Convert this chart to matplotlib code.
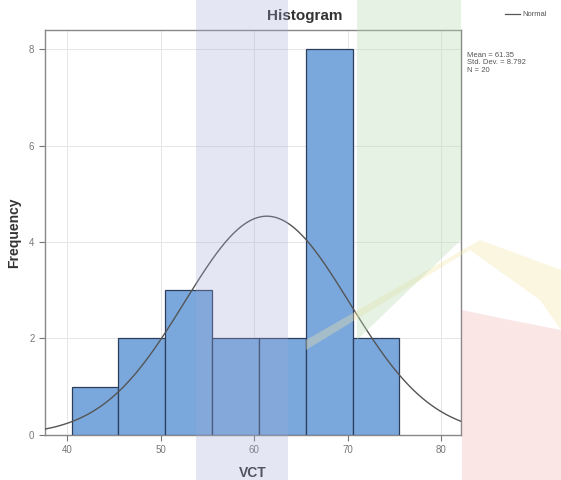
import numpy as np
import matplotlib.pyplot as plt
from matplotlib.patches import Rectangle, Polygon

plt.rcParams['font.family'] = 'sans-serif'
plt.rcParams['font.sans-serif'] = ['Liberation Sans', 'DejaVu Sans']

# --- data ---
bin_edges = [40.5, 45.5, 50.5, 55.5, 60.5, 65.5, 70.5, 75.5]
counts = [1, 2, 3, 2, 2, 8, 2]
mean_vct = 61.35
sd_vct = 8.792
n_vct = 20
x_ticks = [40, 50, 60, 70, 80]
y_ticks = [0, 2, 4, 6, 8]

fig = plt.figure(figsize=(5.61, 4.8), dpi=100)
ax = fig.add_axes([0.080, 0.094, 0.742, 0.8435])

lefts = bin_edges[:-1]
widths = np.diff(bin_edges)
ax.bar(lefts, counts, width=widths, align='edge', color='#7aa8dc',
       edgecolor='#2c3e5c', linewidth=0.9, zorder=3)

# fitted normal curve
bw = widths[0]
xs = np.linspace(37.65, 82.1, 300)
ys = n_vct * bw / (sd_vct * np.sqrt(2 * np.pi)) * np.exp(-0.5 * ((xs - mean_vct) / sd_vct) ** 2)
ax.plot(xs, ys, color='#555555', linewidth=1.0, zorder=4)

ax.set_xlim(37.65, 82.1)
ax.set_ylim(0, 8.4)
ax.set_xticks(x_ticks)
ax.set_yticks(y_ticks)
ax.tick_params(labelsize=7, colors='#777777', length=4, width=0.8, direction='out')
ax.grid(True, color='#e6e6e6', linewidth=0.7, zorder=0)
for s in ax.spines.values():
    s.set_color('#888888')
    s.set_linewidth(1.0)

ax.set_xlabel('VCT', fontsize=10, fontweight='bold', color='#333333', labelpad=8)
ax.set_ylabel('Frequency', fontsize=10, fontweight='bold', color='#333333', labelpad=6)

fig.text(305 / 561, 1 - 16 / 480, 'Histogram', ha='center', va='center',
         fontsize=11, fontweight='bold', color='#333333')

# legend and stats
fig.add_artist(plt.Line2D([505 / 561, 520 / 561], [1 - 14 / 480, 1 - 14 / 480],
                          color='#555555', linewidth=0.9))
fig.text(522 / 561, 1 - 14 / 480, 'Normal', ha='left', va='center', fontsize=5.5, color='#555555')
fig.text(467 / 561, 1 - 52 / 480,
         'Mean = %.2f\nStd. Dev. = %.3f\nN = %d' % (mean_vct, sd_vct, n_vct),
         ha='left', va='top', fontsize=5.5, color='#555555', linespacing=1.1)

# watermark background shapes
tf = fig.transFigure
def px(x, y):
    return (x / 561, 1 - y / 480)

fig.add_artist(Rectangle(px(196, 480), 92 / 561, 1, transform=tf,
                         color='#a0a8d8', alpha=0.28, zorder=10, linewidth=0))
fig.add_artist(Polygon([px(357, 0), px(461, 0), px(461, 240), px(357, 340)], transform=tf,
                       color='#b9dcb0', alpha=0.35, zorder=10, linewidth=0))
fig.add_artist(Polygon([px(306, 350), px(470, 250), px(540, 300), px(561, 330), px(561, 270),
                        px(480, 240), px(306, 340)], transform=tf,
                       color='#f6e7a8', alpha=0.35, zorder=1, linewidth=0))
fig.add_artist(Polygon([px(462, 310), px(500, 318), px(561, 330), px(561, 480),
                        px(462, 480)], transform=tf,
                       color='#f5b9b9', alpha=0.35, zorder=1, linewidth=0))

plt.savefig('out.png', dpi=100)
